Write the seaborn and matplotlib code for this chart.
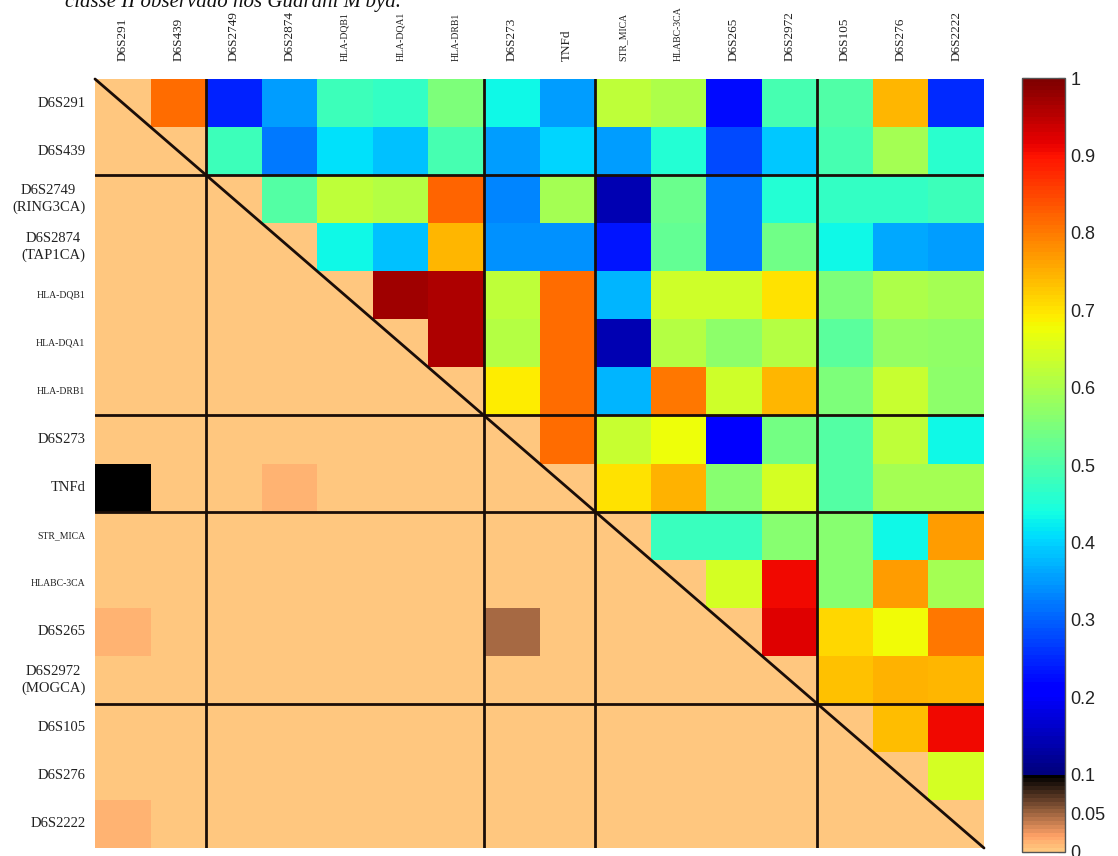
import numpy as np
import pandas as pd
import matplotlib
matplotlib.use("Agg")
import matplotlib.pyplot as plt
from matplotlib.colors import ListedColormap
import seaborn as sns

sns.set_theme(style="white")
plt.rcParams["font.family"] = ["Liberation Serif", "DejaVu Serif"]

# Marker order along the region
markers = ["D6S291", "D6S439", "D6S2749", "D6S2874", "HLA-DQB1", "HLA-DQA1",
           "HLA-DRB1", "D6S273", "TNFd", "STR_MICA", "HLABC-3CA", "D6S265",
           "D6S2972", "D6S105", "D6S276", "D6S2222"]
row_labels = ["D6S291", "D6S439", "D6S2749\n(RING3CA)", "D6S2874\n(TAP1CA)",
              "HLA-DQB1", "HLA-DQA1", "HLA-DRB1", "D6S273", "TNFd", "STR_MICA",
              "HLABC-3CA", "D6S265", "D6S2972\n(MOGCA)", "D6S105", "D6S276",
              "D6S2222"]
small_names = {"HLA-DQB1", "HLA-DQA1", "HLA-DRB1", "STR_MICA", "HLABC-3CA"}

# Upper triangle: pairwise LD, row i holds columns i+1 .. 15
ld_upper = [
    [0.81, 0.24, 0.35, 0.48, 0.47, 0.55, 0.43, 0.35, 0.62, 0.60, 0.22, 0.49, 0.50, 0.74, 0.25],
    [0.48, 0.32, 0.41, 0.38, 0.49, 0.35, 0.40, 0.35, 0.45, 0.275, 0.39, 0.49, 0.59, 0.46],
    [0.505, 0.62, 0.61, 0.82, 0.33, 0.59, 0.14, 0.53, 0.32, 0.45, 0.47, 0.47, 0.48],
    [0.43, 0.38, 0.74, 0.34, 0.34, 0.23, 0.52, 0.32, 0.535, 0.43, 0.36, 0.35],
    [0.97, 0.96, 0.62, 0.81, 0.37, 0.635, 0.635, 0.70, 0.55, 0.60, 0.59],
    [0.96, 0.61, 0.81, 0.145, 0.61, 0.57, 0.61, 0.51, 0.58, 0.575],
    [0.69, 0.81, 0.37, 0.80, 0.635, 0.74, 0.55, 0.63, 0.57],
    [0.81, 0.63, 0.67, 0.21, 0.54, 0.505, 0.62, 0.43],
    [0.70, 0.745, 0.56, 0.645, 0.505, 0.59, 0.59],
    [0.475, 0.475, 0.56, 0.56, 0.43, 0.765],
    [0.645, 0.905, 0.56, 0.765, 0.59],
    [0.92, 0.71, 0.675, 0.80],
    [0.73, 0.745, 0.74],
    [0.735, 0.905],
    [0.645],
]

# Lower triangle: significance values, zero unless listed (row, column, value)
p_lower = [
    (8, 0, 0.098),
    (8, 3, 0.012),
    (11, 0, 0.012),
    (11, 7, 0.045),
    (15, 0, 0.012),
]

block_edges = [2, 7, 9, 13]
cbar_ticks = [0, 0.05, 0.1, 0.2, 0.3, 0.4, 0.5, 0.6, 0.7, 0.8, 0.9, 1.0]
cbar_tick_labels = ["0", "0.05", "0.1", "0.2", "0.3", "0.4", "0.5", "0.6",
                    "0.7", "0.8", "0.9", "1"]

n = len(markers)
mat = np.zeros((n, n))
for i, row in enumerate(ld_upper):
    mat[i, i + 1:] = row
for i, j, v in p_lower:
    mat[i, j] = v
df = pd.DataFrame(mat, index=row_labels, columns=markers)

# Copper ramp for 0-0.1, jet for 0.1-1
n_low, n_high = 20, 180
colors = np.vstack([plt.get_cmap("copper_r")(np.linspace(0, 1, n_low)),
                    plt.get_cmap("jet")(np.linspace(0, 1, n_high))])
cmap = ListedColormap(colors)

W, H = 1118, 856
fig = plt.figure(figsize=(W / 100, H / 100), dpi=100)
ax = fig.add_axes([95 / W, 1 - 848 / H, 889 / W, 769 / H])
cax = fig.add_axes([1022 / W, 1 - 852 / H, 43 / W, 774 / H])

sns.heatmap(df, ax=ax, cbar_ax=cax, cmap=cmap, vmin=0, vmax=1,
            xticklabels=True, yticklabels=True, linewidths=0)

# Block separators and diagonal
for e in block_edges:
    ax.axhline(e, color="#1a0d08", lw=2.0)
    ax.axvline(e, color="#1a0d08", lw=2.0)
ax.plot([0, n], [0, n], color="#1a0d08", lw=2.0, clip_on=False)

ax.xaxis.tick_top()
ax.tick_params(axis="both", length=0)
ax.tick_params(axis="x", pad=13)
ax.tick_params(axis="y", pad=7)
for t in ax.get_xticklabels():
    t.set_rotation(90)
    t.set_fontsize(7 if t.get_text() in small_names else 9.5)
    t.set_color("#222222")
for t in ax.get_yticklabels():
    t.set_rotation(0)
    t.set_multialignment("center")
    t.set_fontsize(7 if t.get_text() in small_names else 10.5)
    t.set_color("#222222")
    t.set_linespacing(1.3)

# Colorbar styling
cb = ax.collections[0].colorbar
cb.outline.set_visible(True)
cb.outline.set_linewidth(1.0)
cb.outline.set_edgecolor("#555555")
cb.set_ticks(cbar_ticks)
cb.set_ticklabels(cbar_tick_labels)
cax.yaxis.set_ticks_position("both")
cax.tick_params(axis="y", direction="in", length=5, width=0.8, color="#333333",
                labelleft=False, labelright=True, labelsize=13, pad=4)
for t in cax.get_yticklabels():
    t.set_fontfamily(["Liberation Sans", "DejaVu Sans"])
    t.set_color("#222222")

# Caption carried over from the page above
fig.text(65 / W, 1 - 7 / H, "classe II observado nos Guarani M'byá.",
         fontsize=15, style="italic", va="baseline", ha="left", color="#111111")

fig.savefig("out.png", dpi=100)
